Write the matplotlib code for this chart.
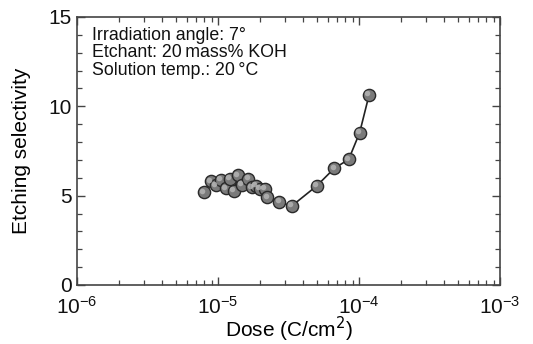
import numpy as np
import matplotlib
matplotlib.use('Agg')
import matplotlib.pyplot as plt
from matplotlib.transforms import offset_copy

plt.rcParams['font.family'] = ['Liberation Sans', 'DejaVu Sans']

# dose (C/cm^2) vs etching selectivity
dose = [7.96e-6, 8.88e-6, 9.68e-6, 1.045e-5, 1.14e-5, 1.217e-5, 1.30e-5,
        1.39e-5, 1.47e-5, 1.64e-5, 1.73e-5, 1.86e-5, 1.99e-5, 2.15e-5,
        2.24e-5, 2.72e-5, 3.33e-5, 5.0e-5, 6.68e-5, 8.45e-5, 1.01e-4, 1.18e-4]
selectivity = [5.19, 5.80, 5.58, 5.89, 5.41, 5.95, 5.26,
               6.14, 5.60, 5.93, 5.47, 5.54, 5.39, 5.39,
               4.91, 4.64, 4.42, 5.54, 6.53, 7.03, 8.52, 10.65]
notes = ['Irradiation angle: 7\u00b0',
         'Etchant: 20\u2009mass% KOH',
         'Solution temp.: 20\u2009\u00b0C']

fig = plt.figure(figsize=(5.33, 3.44), dpi=100)
ax = fig.add_axes([77/533, 59/344, 423/533, 268/344])

ax.plot(dose, selectivity, color='#222222', lw=1.2, zorder=2)
ax.plot(dose, selectivity, 'o', ms=8.8, mfc='#7a7a7a', mec='#2a2a2a',
        mew=1.0, zorder=3)
# small highlight to give the markers a shaded look
hl = offset_copy(ax.transData, fig=fig, x=-1.2, y=1.2, units='points')
ax.plot(dose, selectivity, 'o', ms=4, mfc='#b8b8b8', mec='none',
        alpha=0.8, transform=hl, zorder=4)

ax.set_xscale('log')
ax.set_xlim(1e-6, 1e-3)
ax.set_ylim(0, 15)
ax.set_yticks([0, 5, 10, 15])
ax.set_yticks(np.arange(0, 16, 1), minor=True)

ax.set_xlabel('Dose (C/cm$^2$)', fontsize=15)
ax.xaxis.set_label_coords(0.5, -0.11)
ax.set_ylabel('Etching selectivity', fontsize=15)
ax.yaxis.set_label_coords(-0.108, 0.5)
ax.tick_params(which='both', direction='in', top=True, right=True,
               color='#444444', labelsize=15, labelcolor='#111111')
ax.tick_params(which='major', length=6, width=1.0, pad=4)
ax.tick_params(axis='x', which='major', pad=8)
ax.tick_params(which='minor', length=3.5, width=0.9)
for s in ax.spines.values():
    s.set_color('#444444')
    s.set_linewidth(1.2)

for i, t in enumerate(notes):
    ax.text(0.035, 0.932 - i * 0.066, t, transform=ax.transAxes,
            fontsize=12.8, va='center', ha='left', color='#111111')

fig.savefig('out.png', dpi=100)
